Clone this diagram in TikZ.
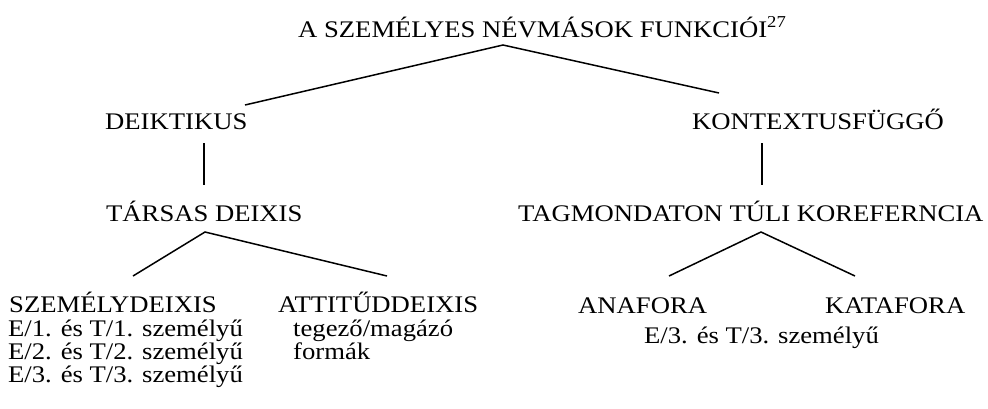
\documentclass[tikz,border=0pt]{standalone}
\usepackage{fontspec}
\setmainfont{Liberation Serif}[FakeStretch=1.12]
\begin{document}
\begin{tikzpicture}[x=1pt,y=-1pt,
  lbl/.style={anchor=base west,inner sep=0pt,font=\fontsize{23.8}{27}\selectfont},
  conn/.style={line width=1.5pt,black}]
\useasboundingbox (0,0) rectangle (988,408);
% texts
\node[lbl] (title) at (298,37) {A SZEMÉLYES NÉVMÁSOK FUNKCIÓI\textsuperscript{27}};
\node[lbl] (deik) at (105,129) {DEIKTIKUS};
\node[lbl] (kont) at (692,129) {KONTEXTUSFÜGGŐ};
\node[lbl] (tars) at (106,221) {TÁRSAS DEIXIS};
\node[lbl] (tagm) at (518,221) {TAGMONDATON TÚLI KOREFERNCIA};
\node[lbl] (szem) at (9,312) {SZEMÉLYDEIXIS};
\node[lbl] (att) at (278,312) {ATTITŰDDEIXIS};
\node[lbl] (e1) at (8,336) {E/1. és T/1. személyű};
\node[lbl] (e2) at (8,359) {E/2. és T/2. személyű};
\node[lbl] (e3) at (8,382) {E/3. és T/3. személyű};
\node[lbl] (teg) at (293,336) {tegező/magázó};
\node[lbl] (form) at (293,359) {formák};
\node[lbl] (ana) at (578,313) {ANAFORA};
\node[lbl] (kata) at (825,313) {KATAFORA};
\node[lbl] (e3r) at (644,343) {E/3. és T/3. személyű};
% connector ends
\coordinate (titleA) at (503,45);
\coordinate (deikT) at (245,105);
\coordinate (kontT) at (719,93);
\coordinate (deikB) at (204,143);
\coordinate (tarsT) at (204,185);
\coordinate (kontB) at (762,143);
\coordinate (tagmT) at (762,185);
\coordinate (tarsA) at (205,232);
\coordinate (szemT) at (133,276);
\coordinate (attT) at (387,276);
\coordinate (tagmA) at (761,232);
\coordinate (anaT) at (669,276);
\coordinate (kataT) at (855,276);
% connectors
\draw[conn] (deikT) -- (titleA) -- (kontT);
\draw[conn] (deikB) -- (tarsT);
\draw[conn] (kontB) -- (tagmT);
\draw[conn] (szemT) -- (tarsA) -- (attT);
\draw[conn] (anaT) -- (tagmA) -- (kataT);
\end{tikzpicture}
\end{document}
